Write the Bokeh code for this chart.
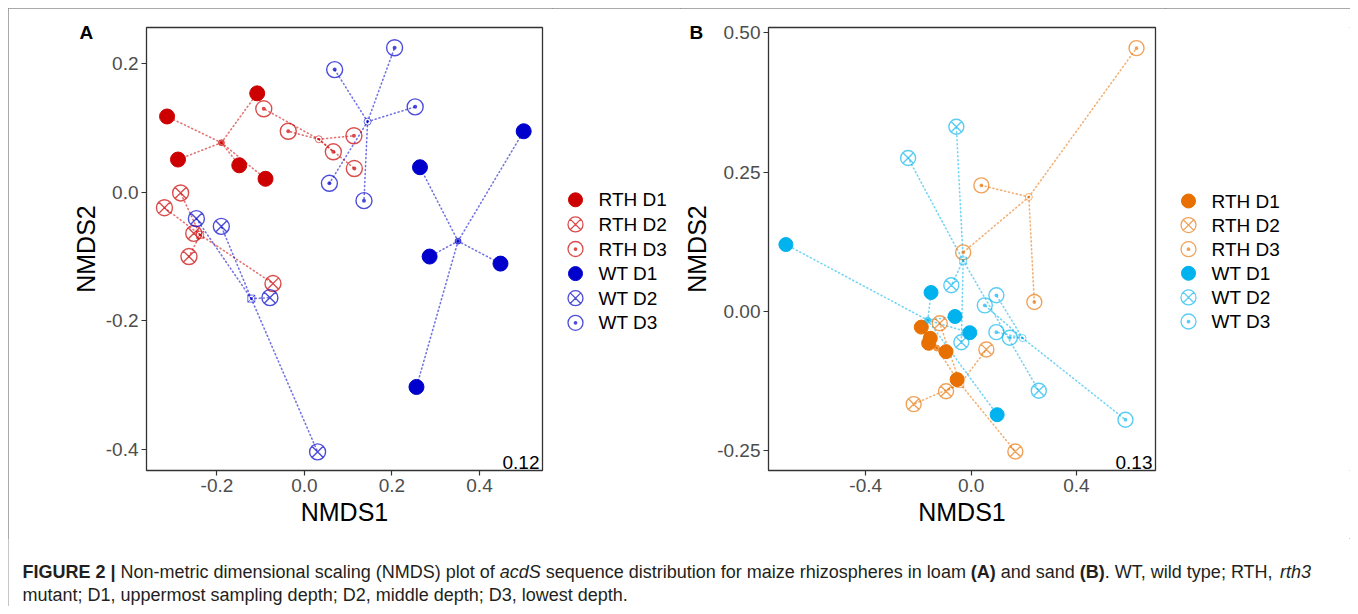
import numpy as np
from bokeh.plotting import figure
from bokeh.models import Range1d, FixedTicker, NumeralTickFormatter, Label, Spacer
from bokeh.layouts import row, column
from bokeh.embed import file_html
from bokeh.resources import INLINE

GROUPS = ["RTH D1", "RTH D2", "RTH D3", "WT D1", "WT D2", "WT D3"]

# ---------------- Panel A (loam) ----------------
A_RTH_D1_x = [-0.314, -0.108, -0.289, -0.149, -0.089]
A_RTH_D1_y = [0.118, 0.154, 0.051, 0.042, 0.021]
A_RTH_D2_x = [-0.283, -0.320, -0.253, -0.264, -0.072]
A_RTH_D2_y = [-0.001, -0.024, -0.064, -0.100, -0.142]
A_RTH_D3_x = [-0.093, -0.037, 0.066, 0.113, 0.114]
A_RTH_D3_y = [0.130, 0.095, 0.063, 0.088, 0.037]
A_WT_D1_x = [0.501, 0.264, 0.286, 0.448, 0.256]
A_WT_D1_y = [0.095, 0.039, -0.100, -0.111, -0.303]
A_WT_D2_x = [-0.247, -0.190, -0.079, 0.030]
A_WT_D2_y = [-0.041, -0.053, -0.164, -0.404]
A_WT_D3_x = [0.069, 0.206, 0.253, 0.057, 0.136]
A_WT_D3_y = [0.191, 0.225, 0.133, 0.014, -0.013]
A_X_TICKS = [-0.2, 0.0, 0.2, 0.4]
A_Y_TICKS = [-0.4, -0.2, 0.0, 0.2]
A_STRESS = "0.12"

# ---------------- Panel B (sand) ----------------
B_RTH_D1_x = [-0.189, -0.155, -0.161, -0.095, -0.053]
B_RTH_D1_y = [-0.028, -0.048, -0.057, -0.072, -0.122]
B_RTH_D2_x = [-0.119, 0.058, -0.095, -0.218, 0.168]
B_RTH_D2_y = [-0.021, -0.068, -0.143, -0.166, -0.251]
B_RTH_D3_x = [0.628, 0.039, -0.030, 0.240]
B_RTH_D3_y = [0.472, 0.226, 0.106, 0.017]
B_WT_D1_x = [-0.703, -0.152, -0.061, -0.005, 0.099]
B_WT_D1_y = [0.120, 0.034, -0.009, -0.038, -0.185]
B_WT_D2_x = [-0.056, -0.239, -0.075, -0.037, 0.257]
B_WT_D2_y = [0.331, 0.275, 0.047, -0.055, -0.142]
B_WT_D3_x = [0.096, 0.052, 0.096, 0.147, 0.586]
B_WT_D3_y = [0.029, 0.011, -0.037, -0.047, -0.194]
B_X_TICKS = [-0.4, 0.0, 0.4]
B_Y_TICKS = [-0.25, 0.0, 0.25, 0.5]
B_STRESS = "0.13"

CAPTION_1 = [("FIGURE 2 | ", "bold"),
             ("Non-metric dimensional scaling (NMDS) plot of ", "normal"),
             ("acdS", "italic"),
             (" sequence distribution for maize rhizospheres in loam ", "normal"),
             ("(A)", "bold"), (" and sand ", "normal"), ("(B)", "bold"),
             (". WT, wild type; RTH, ", "normal"), ("rth3", "italic")]
CAPTION_2 = [("mutant; D1, uppermost sampling depth; D2, middle depth; D3, lowest depth.", "normal")]

FONT = "Liberation Sans"
A_COLS = ["#CC0000", "#0000CC"]
B_COLS = ["#E87000", "#00B2EE"]

# ---------------- layout constants ----------------
FIG_H = 530
MT, MB = 19, 68                      # shared top / bottom borders (row aligns them)
FRAME_H = FIG_H - MT - MB
A_W, A_ML, A_MR = 544, 138, 10
LA_W = 128
B_W, B_ML, B_MR = 485, 88, 10
LB_W = 1342 - A_W - LA_W - B_W
CAP_H = 68
A_FRAME_W = A_W - A_ML - A_MR
B_FRAME_W = B_W - B_ML - B_MR
A_XR, A_YR = (-0.361, 0.544), (-0.433, 0.2565)
B_XR, B_YR = (-0.769, 0.700), (-0.285, 0.509)


def style_for(i):
    kind = i % 3
    if kind == 0:
        return dict(marker="circle", filled=True)
    if kind == 1:
        return dict(marker="circle_x", filled=False)
    return dict(marker="circle_dot", filled=False)


def make_panel(xs, ys, cols, xr, yr, width, ml, mr, frame_w, xticks, yticks,
               yfmt, stress, letter, letter_off, sizes, open_alpha):
    p = figure(width=width, height=FIG_H, x_range=Range1d(*xr), y_range=Range1d(*yr),
               toolbar_location=None, output_backend="svg", title=letter,
               min_border_left=ml, min_border_right=mr, min_border_top=MT,
               min_border_bottom=MB)
    p.title.align = "left"
    p.title.offset = letter_off[0]
    p.title.standoff = letter_off[1]
    p.title.text_font = FONT
    p.title.text_font_size = "19px"
    p.title.text_font_style = "bold"
    p.title.text_color = "black"
    p.xgrid.visible = False
    p.ygrid.visible = False
    p.outline_line_color = "#333333"
    p.outline_line_width = 1.3
    p.background_fill_color = "white"
    p.border_fill_color = "white"
    for ax, ticks, fmt in ((p.xaxis, xticks, "0.0"), (p.yaxis, yticks, yfmt)):
        ax.ticker = FixedTicker(ticks=ticks)
        ax.formatter = NumeralTickFormatter(format=fmt)
        ax.axis_line_color = None
        ax.major_tick_line_color = "#333333"
        ax.major_tick_line_width = 1.2
        ax.major_tick_out = 5
        ax.major_tick_in = 0
        ax.minor_tick_line_color = None
        ax.major_label_text_font = FONT
        ax.major_label_text_font_size = "19px"
        ax.major_label_text_color = "#4D4D4D"
        ax.major_label_standoff = 3
        ax.axis_label_text_font = FONT
        ax.axis_label_text_font_size = "25px"
        ax.axis_label_text_font_style = "normal"
        ax.axis_label_text_color = "black"
        ax.axis_label_standoff = 3
    p.xaxis.axis_label = "NMDS1"
    p.yaxis.axis_label = "NMDS2"

    # spider lines (centroid -> each sample)
    cents = []
    for i in range(6):
        col = cols[i // 3]
        x = np.array(xs[i], dtype=float)
        y = np.array(ys[i], dtype=float)
        cx, cy = x.mean(), y.mean()
        cents.append((cx, cy))
        p.segment(x0=[cx] * len(x), y0=[cy] * len(y), x1=x, y1=y, line_color=col,
                  line_alpha=0.55, line_width=1.6, line_dash="1 3", line_cap="round")
    # points
    for i in range(6):
        col = cols[i // 3]
        st = style_for(i)
        cx, cy = cents[i]
        if st["filled"]:
            p.scatter(xs[i], ys[i], marker="circle", size=sizes[0], fill_color=col,
                      line_color=col, line_width=1)
            p.scatter([cx], [cy], marker="circle", size=6, fill_color=col,
                      line_color=col, fill_alpha=0.6, line_alpha=0.6)
        else:
            p.scatter(xs[i], ys[i], marker=st["marker"], size=sizes[1], fill_color=None,
                      line_color=col, line_alpha=open_alpha, line_width=1.4)
            cm = "square_x" if st["marker"] == "circle_x" else "circle_dot"
            p.scatter([cx], [cy], marker=cm, size=7, fill_color=None,
                      line_color=col, line_alpha=open_alpha * 0.8, line_width=1)

    ppx = frame_w / (xr[1] - xr[0])
    ppy = FRAME_H / (yr[1] - yr[0])
    p.add_layout(Label(x=xr[1] - 3 / ppx, y=yr[0] + 2 / ppy, text=stress,
                       text_align="right", text_baseline="bottom",
                       text_font=FONT, text_font_size="19px", text_color="black"))
    return p


def blank_fig(width, height, y_top, y_bottom, mt=0, mb=0):
    p = figure(width=width, height=height, x_range=Range1d(0, width),
               y_range=Range1d(y_bottom, y_top),
               toolbar_location=None, output_backend="svg",
               min_border_left=0, min_border_right=0, min_border_top=mt, min_border_bottom=mb,
               x_axis_type=None, y_axis_type=None)
    p.grid.visible = False
    p.outline_line_color = None
    p.border_fill_color = "white"
    p.background_fill_color = "white"
    return p


def make_legend(width, cols, y0, pitch, mx, tx, sizes, open_alpha):
    # y coordinates of this figure are page pixels of the frame area (top border 8 + MT)
    top_page = 8 + MT
    p = blank_fig(width, FIG_H, top_page, top_page + FRAME_H, MT, MB)
    for i, name in enumerate(GROUPS):
        col = cols[i // 3]
        st = style_for(i)
        yy = y0 + i * pitch
        if st["filled"]:
            p.scatter([mx], [yy], marker="circle", size=sizes[0], fill_color=col, line_color=col)
        else:
            p.scatter([mx], [yy], marker=st["marker"], size=sizes[1], fill_color=None,
                      line_color=col, line_alpha=open_alpha, line_width=1.3)
        p.add_layout(Label(x=tx, y=yy, text=name, text_align="left", text_baseline="middle",
                           text_font=FONT, text_font_size="19px", text_color="black"))
    return p


A_xs = [A_RTH_D1_x, A_RTH_D2_x, A_RTH_D3_x, A_WT_D1_x, A_WT_D2_x, A_WT_D3_x]
A_ys = [A_RTH_D1_y, A_RTH_D2_y, A_RTH_D3_y, A_WT_D1_y, A_WT_D2_y, A_WT_D3_y]
B_xs = [B_RTH_D1_x, B_RTH_D2_x, B_RTH_D3_x, B_WT_D1_x, B_WT_D2_x, B_WT_D3_x]
B_ys = [B_RTH_D1_y, B_RTH_D2_y, B_RTH_D3_y, B_WT_D1_y, B_WT_D2_y, B_WT_D3_y]

figA = make_panel(A_xs, A_ys, A_COLS, A_XR, A_YR, A_W, A_ML, A_MR, A_FRAME_W,
                  A_X_TICKS, A_Y_TICKS, "0.0", A_STRESS, "A", (-67, -30), (15, 16), 0.7)
figB = make_panel(B_xs, B_ys, B_COLS, B_XR, B_YR, B_W, B_ML, B_MR, B_FRAME_W,
                  B_X_TICKS, B_Y_TICKS, "0.00", B_STRESS, "B", (-79, -30), (14, 15), 0.65)
legA = make_legend(LA_W, A_COLS, 199.3, 24.6, 23, 46, (14, 15), 0.7)
legB = make_legend(LB_W, B_COLS, 200.5, 24.1, 23, 46, (14, 15), 0.65)

# ---------------- caption ----------------
REG = {' ': 278, '|': 260, '-': 333, '(': 333, ')': 333, '.': 278, ',': 278, ';': 278,
       '1': 556, '2': 556, '3': 556,
       'a': 556, 'b': 556, 'c': 500, 'd': 556, 'e': 556, 'f': 278, 'g': 556, 'h': 556,
       'i': 222, 'j': 222, 'k': 500, 'l': 222, 'm': 833, 'n': 556, 'o': 556, 'p': 556,
       'q': 556, 'r': 333, 's': 500, 't': 278, 'u': 556, 'v': 500, 'w': 722, 'x': 500,
       'y': 500, 'z': 500,
       'A': 667, 'B': 667, 'C': 722, 'D': 722, 'E': 667, 'F': 611, 'G': 778, 'H': 722,
       'I': 278, 'M': 833, 'N': 722, 'R': 722, 'S': 667, 'T': 611, 'U': 722, 'W': 944}
BOLD = dict(REG)
BOLD.update({'|': 280, 'A': 722, 'B': 722, 'R': 722, 'U': 722, 'G': 778})


def text_w(s, style, fs):
    tbl = BOLD if style == "bold" else REG
    return sum(tbl.get(c, 556) for c in s) * fs / 1000.0


CAP_FS = 18
cap = blank_fig(1342, CAP_H, 0, CAP_H)
for line, yy in ((CAPTION_1, 33), (CAPTION_2, 56)):
    x = 14.0
    for seg, st in line:
        lead = len(seg) - len(seg.lstrip(" "))
        core = seg.strip(" ")
        cap.add_layout(Label(x=x + text_w(" " * lead, st, CAP_FS), y=yy, text=core,
                             text_align="left", text_baseline="middle",
                             text_font=FONT, text_font_size=f"{CAP_FS}px",
                             text_font_style=st, text_color="#231F20"))
        x += text_w(seg, st, CAP_FS)

inner = column(row(figA, legA, figB, legB), cap,
               styles={"outline": "1px solid #8c8c8c", "outline-offset": "-1px"})
layout = column(Spacer(width=1350, height=8), row(Spacer(width=8, height=598), inner))

open("out.html", "w").write(file_html(layout, INLINE))
